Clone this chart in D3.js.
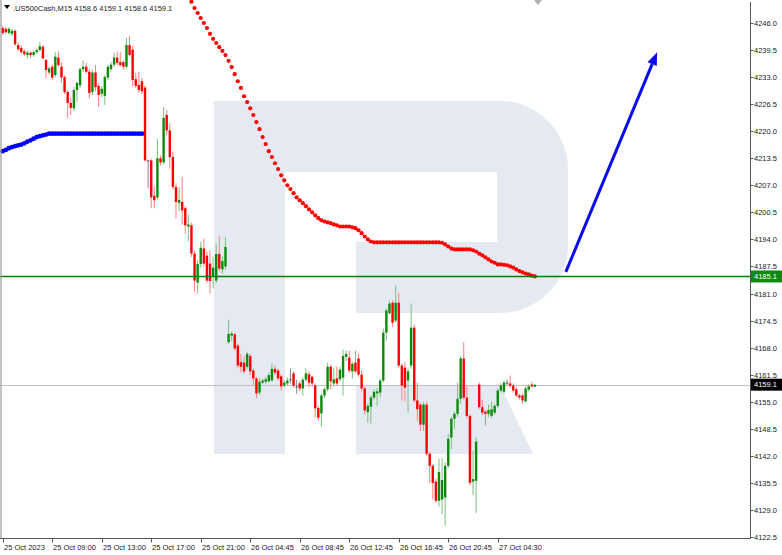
<!DOCTYPE html>
<html><head><meta charset="utf-8">
<script src="https://cdn.jsdelivr.net/npm/d3@7/dist/d3.min.js"></script>
<style>
html,body{margin:0;padding:0;background:#fff;}
svg{display:block;}
text{font-family:"Liberation Sans",Arial,sans-serif;}
</style></head>
<body>
<svg id="chart" width="782" height="555"></svg>
<script>
// ---- data ----
const symbolTitle = ".US500Cash,M15";
const lastOHLC = ["4158.6", "4159.1", "4158.6", "4159.1"];

const open = [4244.8,4244.6,4243.6,4243.4,4244.1,4240.7,4240.0,4239.2,4238.3,4238.9,4238.3,4239.0,4239.5,4240.3,4237.1,4234.1,4235.5,4233.5,4237.7,4235.5,
4233.0,4229.4,4226.8,4225.5,4229.9,4231.0,4234.9,4235.5,4234.3,4229.4,4234.1,4230.9,4229.0,4228.5,4232.9,4234.9,4236.0,4237.7,4236.6,4236.6,
4235.5,4240.7,4239.6,4232.5,4231.1,4232.0,4230.5,4213.0,4213.0,4204.5,4204.1,4213.5,4212.5,4223.9,4220.2,4213.8,4206.6,4202.8,4203.0,4201.5,
4197.1,4197.4,4190.6,4183.6,4188.1,4191.8,4190.1,4188.2,4185.0,4184.1,4190.5,4186.8,4187.5,4169.3,4170.9,4171.2,4168.5,4164.5,4164.4,4163.4,
4166.0,4162.5,4160.6,4157.2,4159.6,4159.8,4159.9,4160.1,4162.9,4162.5,4161.1,4158.9,4159.4,4160.4,4161.8,4158.7,4159.4,4158.2,4160.3,4161.6,
4161.0,4158.9,4153.5,4152.2,4156.5,4158.0,4163.4,4159.4,4160.6,4160.4,4160.8,4165.8,4165.6,4162.3,4164.4,4165.4,4161.5,4158.2,4152.5,4153.8,
4156.0,4157.0,4157.2,4160.1,4171.6,4176.3,4178.8,4174.5,4178.8,4163.7,4163.2,4160.1,4163.7,4172.8,4155.3,4154.3,4149.5,4154.3,4142.5,4139.6,
4135.8,4131.2,4131.5,4132.0,4139.6,4146.4,4150.9,4152.1,4155.7,4165.4,4156.0,4151.6,4135.8,4136.0,4159.1,4153.7,4152.6,4152.1,4151.6,4152.4,
4154.0,4157.7,4157.4,4159.6,4159.4,4158.9,4158.0,4156.5,4156.5,4155.1,4157.9,4159.1,4158.6];
const high = [4245.3,4245.0,4245.0,4244.6,4244.4,4241.4,4240.7,4239.7,4239.4,4239.2,4239.4,4239.9,4241.4,4240.7,4237.4,4235.6,4236.0,4239.0,4239.2,4236.5,
4233.5,4229.9,4228.0,4230.6,4232.0,4235.3,4237.0,4236.4,4235.0,4234.8,4235.9,4231.6,4230.8,4233.5,4236.0,4236.6,4238.9,4239.2,4239.0,4237.1,
4242.4,4242.9,4240.5,4234.0,4234.3,4232.8,4230.9,4213.2,4213.4,4206.8,4218.2,4214.2,4225.8,4225.1,4222.0,4215.0,4207.5,4206.5,4209.0,4202.0,
4200.0,4198.0,4191.4,4189.0,4193.5,4194.2,4191.0,4191.4,4189.9,4193.0,4194.9,4190.0,4194.6,4174.7,4171.9,4171.6,4169.0,4166.5,4166.0,4167.0,
4166.5,4163.0,4161.0,4160.6,4160.6,4161.0,4162.0,4164.2,4163.7,4163.0,4161.6,4160.1,4160.8,4163.0,4162.3,4160.3,4160.0,4160.8,4163.0,4162.3,
4161.3,4159.4,4154.0,4157.0,4158.4,4164.4,4163.9,4163.0,4163.4,4163.4,4167.5,4167.3,4167.3,4164.6,4167.3,4166.6,4162.5,4158.6,4154.6,4156.5,
4158.0,4158.2,4160.6,4172.6,4177.4,4179.3,4179.3,4183.0,4181.2,4164.2,4164.5,4163.0,4178.6,4173.5,4159.6,4154.8,4155.0,4155.0,4143.0,4140.0,
4136.5,4141.3,4141.5,4140.5,4147.3,4151.4,4152.6,4159.6,4166.0,4169.3,4158.7,4152.0,4143.2,4146.6,4159.6,4155.5,4153.0,4154.3,4155.0,4154.5,
4158.2,4159.4,4160.1,4160.3,4161.3,4159.4,4158.5,4156.9,4157.0,4158.7,4159.2,4159.8,4159.1];
const low = [4243.1,4243.4,4243.2,4242.9,4240.5,4239.3,4238.5,4238.1,4237.4,4237.6,4237.8,4238.6,4239.2,4237.3,4232.7,4233.6,4232.3,4233.0,4235.4,4231.6,
4228.9,4223.2,4223.9,4224.9,4227.0,4230.4,4234.2,4233.8,4227.9,4228.7,4229.6,4225.8,4228.2,4226.3,4232.3,4234.3,4235.5,4235.9,4235.5,4234.7,
4235.0,4237.9,4230.9,4230.4,4229.2,4229.0,4212.7,4206.3,4201.5,4201.5,4203.6,4211.8,4212.0,4219.0,4211.0,4206.0,4199.0,4200.8,4197.5,4195.3,
4193.5,4189.8,4181.4,4181.0,4187.2,4187.4,4183.5,4181.0,4182.2,4183.5,4186.4,4185.8,4186.8,4168.9,4169.5,4167.3,4163.0,4162.0,4161.7,4162.8,
4161.4,4159.0,4155.9,4156.6,4159.3,4159.3,4159.6,4159.9,4161.4,4160.1,4157.7,4158.5,4158.9,4159.4,4158.4,4156.9,4157.5,4156.5,4159.8,4158.5,
4158.7,4151.3,4150.5,4149.0,4155.9,4157.5,4158.0,4158.7,4158.9,4159.9,4156.5,4164.7,4162.0,4160.6,4161.8,4161.0,4157.5,4152.0,4150.0,4149.7,
4155.5,4154.0,4156.0,4159.6,4169.7,4175.9,4172.9,4174.0,4163.2,4155.3,4155.0,4152.4,4163.0,4154.8,4150.4,4148.0,4148.0,4142.0,4135.5,4131.5,
4130.7,4129.8,4128.0,4125.2,4139.0,4143.6,4148.5,4151.4,4154.5,4155.5,4151.0,4134.9,4132.5,4128.3,4153.2,4151.8,4149.2,4151.3,4151.1,4151.9,
4153.5,4157.2,4156.9,4158.9,4158.4,4157.2,4156.0,4155.5,4154.5,4154.8,4157.5,4158.4,4158.6];
const close = [4243.6,4243.8,4244.6,4244.1,4240.9,4239.7,4239.0,4238.5,4238.9,4238.3,4239.0,4239.5,4240.4,4237.5,4234.7,4235.1,4232.9,4237.9,4235.9,4232.9,
4229.4,4226.8,4225.6,4229.9,4231.6,4234.9,4235.5,4234.3,4229.2,4234.1,4230.6,4228.7,4230.2,4233.0,4235.5,4236.0,4237.7,4236.4,4235.9,4235.5,
4240.7,4238.3,4232.3,4230.9,4229.9,4229.6,4213.0,4213.0,4204.1,4203.4,4213.5,4212.5,4223.2,4220.2,4213.8,4206.6,4203.0,4203.5,4201.0,4197.4,
4197.6,4190.6,4184.1,4188.1,4192.0,4188.2,4184.1,4184.0,4187.2,4190.5,4187.0,4188.8,4192.2,4171.3,4171.4,4167.8,4163.7,4163.4,4162.3,4166.5,
4162.3,4160.6,4157.0,4159.8,4160.1,4160.4,4161.4,4162.9,4162.0,4160.6,4158.7,4159.6,4160.1,4160.4,4158.9,4158.7,4158.2,4160.3,4161.8,4159.6,
4159.4,4153.4,4151.2,4156.5,4158.0,4163.4,4159.9,4160.4,4159.4,4162.7,4166.0,4166.5,4162.5,4164.1,4162.3,4161.5,4158.2,4152.9,4154.0,4156.0,
4157.4,4157.5,4160.1,4171.6,4176.9,4178.6,4174.0,4178.8,4163.7,4158.9,4158.4,4162.3,4172.8,4155.3,4153.2,4149.5,4154.3,4142.5,4139.6,4135.5,
4131.2,4138.1,4136.2,4139.6,4146.1,4150.9,4152.1,4155.7,4165.4,4156.0,4151.6,4135.5,4136.4,4145.4,4153.7,4152.4,4152.1,4153.0,4153.2,4154.0,
4157.7,4158.9,4159.6,4159.6,4158.9,4157.7,4156.5,4156.0,4155.3,4158.2,4158.7,4158.7,4159.1];

// blue moving average, bars 0..45
const blueMAStart = 0;
const blueMA = [4215.2,4215.5,4215.9,4216.2,4216.4,4216.6,4216.8,4217.1,4217.5,4217.8,4218.2,4218.6,4218.8,4219.0,4219.2,
4219.4,4219.4,4219.4,4219.4,4219.4,4219.4,4219.4,4219.4,4219.4,4219.4,4219.4,4219.4,4219.4,4219.4,4219.4,4219.4,
4219.4,4219.4,4219.4,4219.4,4219.4,4219.4,4219.4,4219.4,4219.4,4219.4,4219.4,4219.4,4219.4,4219.4,4219.4];
// red moving average, bars 61..172
const redMAStart = 61;
const redMA = [4251.1,4249.6,4248.4,4247.2,4246.0,4244.8,4243.4,4242.2,4241.2,4240.2,4239.3,4238.3,4236.9,4235.4,4233.7,4232.0,4230.4,
4228.4,4227.0,4225.5,4223.9,4222.2,4220.5,4218.6,4216.9,4215.2,4213.8,4212.3,4210.9,4209.4,4208.2,4207.0,4206.1,4205.1,4204.1,4203.4,
4202.7,4202.0,4201.2,4200.5,4199.8,4199.1,4198.6,4198.3,4198.1,4197.9,4197.6,4197.4,4197.1,4197.1,4197.1,4197.1,4196.9,4196.7,4196.2,
4195.5,4194.7,4194.0,4193.5,4193.3,4193.3,4193.3,4193.3,4193.3,4193.3,4193.3,4193.3,4193.3,4193.3,4193.3,4193.3,4193.3,4193.3,4193.3,
4193.3,4193.3,4193.3,4193.3,4193.3,4193.3,4193.3,4193.2,4192.8,4192.3,4191.8,4191.6,4191.6,4191.6,4191.6,4191.6,4191.6,4191.4,4191.1,
4190.6,4190.2,4189.7,4189.2,4188.7,4188.4,4188.0,4188.0,4187.9,4187.8,4187.5,4187.2,4186.8,4186.4,4186.1,4185.8,4185.6,4185.3,4185.1];

const levelLine = 4185.1;
const currentPrice = 4159.1;
const priceTicks = ["4246.0","4239.5","4233.0","4226.5","4220.0","4213.5","4207.0","4200.5","4194.0","4187.5",
"4181.0","4174.5","4168.0","4161.5","4155.0","4148.5","4142.0","4135.5","4129.0","4122.5"];
const timeLabels = ["25 Oct 2023","25 Oct 09:00","25 Oct 13:00","25 Oct 17:00","25 Oct 21:00","26 Oct 04:45",
"26 Oct 08:45","26 Oct 12:45","26 Oct 16:45","26 Oct 20:45","27 Oct 04:30"];
const timeLabelBars = [0,16,32,48,64,80,96,112,128,144,160];
// forecast arrow (bar index, price)
const arrowFrom = {bar:182, price:4186.2};
const arrowTo = {bar:211.5, price:4239.0};

// ---- layout ----
const svg = d3.select("#chart");
const plotRight = 750.5, plotBottom = 538.5;
const N = open.length;
const x = d3.scaleLinear().domain([0, N - 1]).range([2.7, 534.9]);
const y = d3.scaleLinear().domain([4122.5, 4246.0]).range([537, 23]);

svg.append("defs").append("clipPath").attr("id","plotclip")
  .append("rect").attr("x",0).attr("y",0).attr("width",plotRight).attr("height",plotBottom);

// watermark "R"
const wm = svg.append("g").attr("fill","#e4e9f2");
wm.append("rect").attr("x",214).attr("y",101).attr("width",71).attr("height",353);
wm.append("path").attr("d","M214,101 H500 A68,68 0 0 1 568,169 V245 A68,68 0 0 1 500,313 H356 V242 H497 V172 H214 Z");
wm.append("path").attr("d","M356,385 H500 L533,454 H356 Z");

const plot = svg.append("g").attr("clip-path","url(#plotclip)");

// horizontal lines
plot.append("line").attr("x1",0).attr("x2",plotRight).attr("y1",Math.round(y(currentPrice))+0.5).attr("y2",Math.round(y(currentPrice))+0.5)
  .attr("stroke","#c0c0c0").attr("stroke-width",1);

// candles
const idx = d3.range(N);
const color = i => close[i] > open[i] ? "#0b8a0b" : (close[i] < open[i] ? "#ff0000" : "#555");
const wickColor = i => close[i] > open[i] ? "#7cc07c" : (close[i] < open[i] ? "#ff8080" : "#888");
const cg = plot.append("g");
cg.selectAll("line.wick").data(idx).join("line").attr("class","wick")
  .attr("x1",i=>x(i)).attr("x2",i=>x(i)).attr("y1",i=>y(high[i])).attr("y2",i=>y(low[i]))
  .attr("stroke",wickColor).attr("stroke-width",1);
cg.selectAll("rect.body").data(idx).join("rect").attr("class","body")
  .attr("x",i=>x(i)-1.2).attr("width",2.4)
  .attr("y",i=>Math.min(y(open[i]),y(close[i])))
  .attr("height",i=>Math.max(1,Math.abs(y(open[i])-y(close[i]))))
  .attr("fill",color);

// blue MA dots
plot.append("g").selectAll("circle").data(blueMA).join("circle")
  .attr("cx",(d,k)=>x(blueMAStart+k)).attr("cy",d=>y(d)).attr("r",2.4).attr("fill","#0000ff");
// red MA dots
plot.append("g").selectAll("circle").data(redMA).join("circle")
  .attr("cx",(d,k)=>x(redMAStart+k)).attr("cy",d=>y(d)).attr("r",2.1).attr("fill","#ff0000");

// green level line
plot.append("line").attr("x1",0).attr("x2",plotRight).attr("y1",y(levelLine)).attr("y2",y(levelLine))
  .attr("stroke","#008000").attr("stroke-width",1.6);

// arrow
const ax1 = x(arrowFrom.bar), ay1 = y(arrowFrom.price), ax2 = x(arrowTo.bar), ay2 = y(arrowTo.price);
const ang = Math.atan2(ay2-ay1, ax2-ax1);
const headL = 13, headW = 5;
const bx = ax2 - headL*Math.cos(ang), by = ay2 - headL*Math.sin(ang);
plot.append("line").attr("x1",ax1).attr("y1",ay1).attr("x2",bx).attr("y2",by)
  .attr("stroke","#0a0af0").attr("stroke-width",3);
plot.append("path").attr("d",`M${ax2},${ay2} L${bx+headW*Math.sin(ang)},${by-headW*Math.cos(ang)} L${bx-headW*Math.sin(ang)},${by+headW*Math.cos(ang)} Z`)
  .attr("fill","#0a0af0");

// frame
svg.append("line").attr("x1",1).attr("x2",1).attr("y1",0).attr("y2",plotBottom).attr("stroke","#999").attr("stroke-width",1.2);
svg.append("line").attr("x1",0).attr("x2",plotRight).attr("y1",plotBottom).attr("y2",plotBottom).attr("stroke","#555").attr("stroke-width",1);
svg.append("line").attr("x1",plotRight).attr("x2",plotRight).attr("y1",2).attr("y2",plotBottom).attr("stroke","#555").attr("stroke-width",1);
// shift marker
svg.append("path").attr("d","M534,0 L542,0 L538,5 Z").attr("fill","#b0b0b0");

// right axis
const ra = svg.append("g");
priceTicks.forEach(t=>{
  const v = +t, yy = Math.round(y(v))+0.5;
  ra.append("line").attr("x1",plotRight).attr("x2",plotRight+3).attr("y1",yy).attr("y2",yy).attr("stroke","#555");
  ra.append("text").attr("x",754).attr("y",yy+2.7).attr("font-size",7.5).attr("fill","#222").text(t);
});
function priceBox(v, bg){
  const yy = y(v);
  ra.append("rect").attr("x",plotRight+0.5).attr("y",yy-6).attr("width",31).attr("height",12).attr("fill",bg);
  ra.append("text").attr("x",754).attr("y",yy+2.7).attr("font-size",7.5).attr("fill","#fff").text(v.toFixed(1));
}
priceBox(levelLine, "#0d8a0d");
priceBox(currentPrice, "#000");

// bottom axis
const ba = svg.append("g");
timeLabels.forEach((t,k)=>{
  const xx = Math.round(x(timeLabelBars[k]))+0.5;
  ba.append("line").attr("x1",xx).attr("x2",xx).attr("y1",plotBottom).attr("y2",plotBottom+4).attr("stroke","#555");
  ba.append("text").attr("x",xx+0.5).attr("y",550).attr("font-size",7.5).attr("fill","#222").text(t);
});

// header
const hd = svg.append("g");
hd.append("path").attr("d","M4,5 L10,5 L7,9 Z").attr("fill","#000");
hd.append("text").attr("x",13).attr("y",11).attr("font-size",7.5).attr("fill","#222")
  .text(symbolTitle + "  " + lastOHLC.join(" "));
</script>
</body></html>
